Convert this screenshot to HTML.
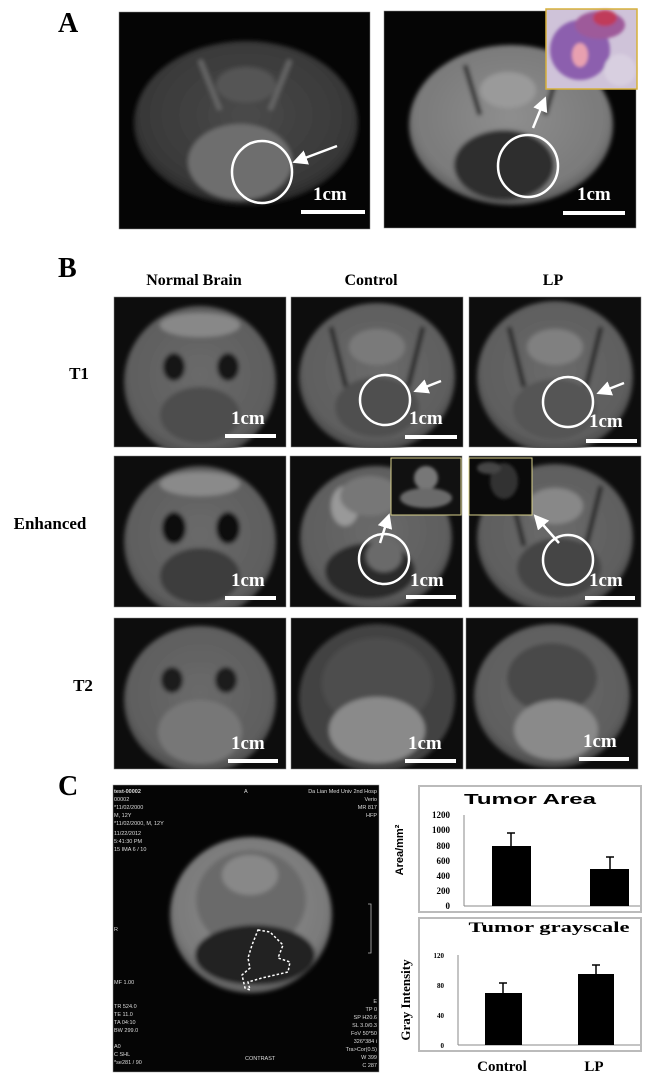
<!DOCTYPE html>
<html><head><meta charset="utf-8"><style>
html,body{margin:0;padding:0;background:#fff;}
svg{display:block;}
.lbl{font-family:"Liberation Serif",serif;font-weight:bold;fill:#000;}
.cm{font-family:"Liberation Serif",serif;font-weight:bold;fill:#fff;font-size:19px;}
.tiny{font-family:"Liberation Sans",sans-serif;fill:#ddd;font-size:5.5px;}
.ax{font-family:"Liberation Serif",serif;font-weight:bold;fill:#000;font-size:9px;}
</style></head><body>
<svg width="650" height="1087" viewBox="0 0 650 1087" xmlns="http://www.w3.org/2000/svg">
<defs>
<filter id="bl" x="-10%" y="-10%" width="120%" height="120%"><feGaussianBlur stdDeviation="2.2"/></filter>
<filter id="bl2"><feGaussianBlur stdDeviation="1.5"/></filter>
<clipPath id="cpB"><rect x="0" y="0" width="172" height="151"/></clipPath>
<clipPath id="cpA1"><rect x="119" y="12" width="251" height="217"/></clipPath>
<clipPath id="cpA2"><rect x="384" y="11" width="252" height="217"/></clipPath>
<clipPath id="cpC"><rect x="113" y="785" width="266" height="287"/></clipPath>
<radialGradient id="gA" cx="50%" cy="45%" r="55%"><stop offset="0" stop-color="#4a4a4a"/><stop offset="0.85" stop-color="#383838"/><stop offset="1" stop-color="#262626"/></radialGradient>
<radialGradient id="gB" cx="50%" cy="45%" r="55%"><stop offset="0" stop-color="#8e8e8e"/><stop offset="0.85" stop-color="#7a7a7a"/><stop offset="1" stop-color="#5a5a5a"/></radialGradient>
<radialGradient id="gH" cx="50%" cy="45%" r="55%"><stop offset="0" stop-color="#6a6a6a"/><stop offset="0.85" stop-color="#5e5e5e"/><stop offset="1" stop-color="#484848"/></radialGradient>
<marker id="ar" markerWidth="6" markerHeight="6" refX="4" refY="3" orient="auto"><path d="M0,0 L6,3 L0,6 z" fill="#fff"/></marker>
</defs>

<!-- Panel A -->
<text class="lbl" x="58" y="32" font-size="28">A</text>
<rect x="119" y="12" width="251" height="217" fill="#050505" stroke="#888" stroke-width="0.5"/>
<g clip-path="url(#cpA1)"><g filter="url(#bl)">
<ellipse cx="246" cy="123" rx="112" ry="82" fill="url(#gA)"/>
<ellipse cx="240" cy="162" rx="52" ry="38" fill="#6e6e6e"/>
<path d="M200,60 L220,110 M290,60 L270,110" stroke="#666" stroke-width="5"/>
<ellipse cx="246" cy="85" rx="30" ry="18" fill="#555"/>
</g></g>
<ellipse cx="262" cy="172" rx="30" ry="31" fill="none" stroke="#fff" stroke-width="2.5"/>
<line x1="337" y1="146" x2="297" y2="161" stroke="#fff" stroke-width="2.5" marker-end="url(#ar)"/>
<rect x="301" y="210" width="64" height="4" fill="#fff"/>
<text class="cm" x="313" y="200">1cm</text>

<rect x="384" y="11" width="252" height="217" fill="#050505" stroke="#888" stroke-width="0.5"/>
<g clip-path="url(#cpA2)"><g filter="url(#bl)">
<ellipse cx="511" cy="125" rx="102" ry="80" fill="url(#gB)"/>
<ellipse cx="504" cy="165" rx="50" ry="35" fill="#2e2e2e"/>
<path d="M465,65 L480,115 M560,65 L545,115" stroke="#333" stroke-width="5"/>
<ellipse cx="508" cy="90" rx="28" ry="18" fill="#9a9a9a"/>
</g></g>
<ellipse cx="528" cy="166" rx="30" ry="31" fill="none" stroke="#fff" stroke-width="2.5"/>
<line x1="533" y1="128" x2="544" y2="101" stroke="#fff" stroke-width="2.5" marker-end="url(#ar)"/>
<rect x="563" y="211" width="62" height="4" fill="#fff"/>
<text class="cm" x="577" y="200">1cm</text>
<rect x="546" y="9" width="91" height="80" fill="#cfc3d9"/>
<g filter="url(#bl2)">
<ellipse cx="580" cy="50" rx="30" ry="30" fill="#8c5fae"/>
<ellipse cx="600" cy="25" rx="25" ry="14" fill="#9e5a9a"/>
<ellipse cx="580" cy="55" rx="8" ry="12" fill="#e8a0b0"/>
<ellipse cx="605" cy="18" rx="12" ry="8" fill="#c03a5a"/>
<ellipse cx="620" cy="70" rx="16" ry="16" fill="#d8cfe0"/>
</g>
<rect x="546" y="9" width="91" height="80" fill="none" stroke="#d6b03a" stroke-width="1.5"/>

<!-- Panel B -->
<text class="lbl" x="58" y="277" font-size="28">B</text>
<text class="lbl" x="194" y="285" font-size="16" text-anchor="middle">Normal Brain</text>
<text class="lbl" x="371" y="285" font-size="16" text-anchor="middle">Control</text>
<text class="lbl" x="553" y="285" font-size="16" text-anchor="middle">LP</text>
<text class="lbl" x="79" y="379" font-size="17" text-anchor="middle">T1</text>
<text class="lbl" x="50" y="529" font-size="17" text-anchor="middle">Enhanced</text>
<text class="lbl" x="83" y="691" font-size="17" text-anchor="middle">T2</text>

<!-- row 1 -->
<g transform="translate(114,297)">
<rect width="172" height="150" fill="#0d0d0d" stroke="#888" stroke-width="0.5"/>
<g clip-path="url(#cpB)"><g filter="url(#bl)"><ellipse cx="86" cy="85" rx="76" ry="76" fill="url(#gH)"/>
<ellipse cx="60" cy="70" rx="11" ry="14" fill="#151515"/><ellipse cx="114" cy="70" rx="11" ry="14" fill="#151515"/>
<ellipse cx="86" cy="118" rx="40" ry="28" fill="#4e4e4e"/><ellipse cx="86" cy="28" rx="40" ry="12" fill="#888"/></g></g>
<rect x="111" y="137" width="51" height="4" fill="#fff"/><text class="cm" x="117" y="127">1cm</text>
</g>
<g transform="translate(291,297)">
<rect width="172" height="150" fill="#0d0d0d" stroke="#888" stroke-width="0.5"/>
<g clip-path="url(#cpB)"><g filter="url(#bl)"><ellipse cx="86" cy="80" rx="78" ry="74" fill="url(#gH)"/>
<path d="M40,30 L55,90 M132,30 L117,90" stroke="#2a2a2a" stroke-width="5"/>
<ellipse cx="86" cy="50" rx="28" ry="18" fill="#7a7a7a"/><ellipse cx="86" cy="110" rx="42" ry="30" fill="#505050"/></g></g>
<ellipse cx="94" cy="103" rx="25" ry="25" fill="none" stroke="#fff" stroke-width="2.5"/>
<line x1="150" y1="84" x2="127" y2="93" stroke="#fff" stroke-width="2.5" marker-end="url(#ar)"/>
<rect x="114" y="138" width="52" height="4" fill="#fff"/><text class="cm" x="118" y="127">1cm</text>
</g>
<g transform="translate(469,297)">
<rect width="172" height="150" fill="#0d0d0d" stroke="#888" stroke-width="0.5"/>
<g clip-path="url(#cpB)"><g filter="url(#bl)"><ellipse cx="86" cy="80" rx="78" ry="76" fill="url(#gH)"/>
<path d="M40,30 L55,90 M132,30 L117,90" stroke="#2a2a2a" stroke-width="5"/>
<ellipse cx="86" cy="50" rx="28" ry="18" fill="#808080"/><ellipse cx="86" cy="112" rx="42" ry="30" fill="#555"/></g></g>
<ellipse cx="99" cy="105" rx="25" ry="25" fill="none" stroke="#fff" stroke-width="2.5"/>
<line x1="155" y1="86" x2="132" y2="95" stroke="#fff" stroke-width="2.5" marker-end="url(#ar)"/>
<rect x="117" y="142" width="51" height="4" fill="#fff"/><text class="cm" x="120" y="130">1cm</text>
</g>

<!-- row 2 -->
<g transform="translate(114,456)">
<rect width="172" height="151" fill="#0d0d0d" stroke="#888" stroke-width="0.5"/>
<g clip-path="url(#cpB)"><g filter="url(#bl)"><ellipse cx="86" cy="86" rx="76" ry="76" fill="url(#gH)"/>
<ellipse cx="60" cy="72" rx="12" ry="16" fill="#0a0a0a"/><ellipse cx="114" cy="72" rx="12" ry="16" fill="#0a0a0a"/>
<ellipse cx="86" cy="120" rx="40" ry="28" fill="#3e3e3e"/><ellipse cx="86" cy="28" rx="40" ry="12" fill="#8a8a8a"/></g></g>
<rect x="111" y="140" width="51" height="4" fill="#fff"/><text class="cm" x="117" y="130">1cm</text>
</g>
<g transform="translate(290,456)">
<rect width="172" height="151" fill="#0d0d0d" stroke="#888" stroke-width="0.5"/>
<g clip-path="url(#cpB)"><g filter="url(#bl)"><ellipse cx="86" cy="82" rx="76" ry="72" fill="url(#gH)"/>
<ellipse cx="55" cy="50" rx="14" ry="20" fill="#999"/><ellipse cx="80" cy="40" rx="30" ry="20" fill="#777"/>
<ellipse cx="80" cy="115" rx="45" ry="28" fill="#2a2a2a"/><ellipse cx="94" cy="100" rx="18" ry="16" fill="#6a6a6a"/></g></g>
<ellipse cx="94" cy="103" rx="25" ry="25" fill="none" stroke="#fff" stroke-width="2.5"/>
<line x1="90" y1="87" x2="98" y2="62" stroke="#fff" stroke-width="2.5" marker-end="url(#ar)"/>
<rect x="101" y="2" width="70" height="57" fill="#111"/>
<g filter="url(#bl2)"><ellipse cx="136" cy="22" rx="12" ry="12" fill="#777"/><ellipse cx="136" cy="42" rx="26" ry="10" fill="#6a6a6a"/></g>
<rect x="101" y="2" width="70" height="57" fill="none" stroke="#d8d08a" stroke-width="1"/>
<rect x="116" y="139" width="50" height="4" fill="#fff"/><text class="cm" x="120" y="130">1cm</text>
</g>
<g transform="translate(469,456)">
<rect width="172" height="151" fill="#0d0d0d" stroke="#888" stroke-width="0.5"/>
<g clip-path="url(#cpB)"><g filter="url(#bl)"><ellipse cx="86" cy="82" rx="78" ry="74" fill="url(#gH)"/>
<path d="M40,30 L55,90 M132,30 L117,90" stroke="#2a2a2a" stroke-width="5"/>
<ellipse cx="86" cy="50" rx="28" ry="18" fill="#888"/><ellipse cx="90" cy="112" rx="42" ry="30" fill="#444"/></g></g>
<ellipse cx="99" cy="104" rx="25" ry="25" fill="none" stroke="#fff" stroke-width="2.5"/>
<line x1="90" y1="87" x2="68" y2="62" stroke="#fff" stroke-width="2.5" marker-end="url(#ar)"/>
<rect x="0" y="2" width="63" height="57" fill="#0a0a0a"/>
<g filter="url(#bl2)"><ellipse cx="35" cy="25" rx="14" ry="18" fill="#333"/><ellipse cx="20" cy="12" rx="12" ry="6" fill="#444"/></g>
<rect x="0" y="2" width="63" height="57" fill="none" stroke="#d8d08a" stroke-width="1"/>
<rect x="116" y="140" width="50" height="4" fill="#fff"/><text class="cm" x="120" y="130">1cm</text>
</g>

<!-- row 3 -->
<g transform="translate(114,618)">
<rect width="172" height="151" fill="#0d0d0d" stroke="#888" stroke-width="0.5"/>
<g clip-path="url(#cpB)"><g filter="url(#bl)"><ellipse cx="86" cy="82" rx="76" ry="74" fill="url(#gH)"/>
<ellipse cx="58" cy="62" rx="11" ry="13" fill="#1a1a1a"/><ellipse cx="112" cy="62" rx="11" ry="13" fill="#1a1a1a"/>
<ellipse cx="86" cy="114" rx="42" ry="32" fill="#777"/></g></g>
<rect x="114" y="141" width="50" height="4" fill="#fff"/><text class="cm" x="117" y="131">1cm</text>
</g>
<g transform="translate(291,618)">
<rect width="172" height="151" fill="#0d0d0d" stroke="#888" stroke-width="0.5"/>
<g clip-path="url(#cpB)"><g filter="url(#bl)"><ellipse cx="86" cy="80" rx="78" ry="74" fill="#424242"/>
<ellipse cx="86" cy="65" rx="55" ry="45" fill="#4e4e4e"/>
<ellipse cx="86" cy="112" rx="48" ry="33" fill="#8a8a8a"/></g></g>
<rect x="114" y="141" width="51" height="4" fill="#fff"/><text class="cm" x="117" y="131">1cm</text>
</g>
<g transform="translate(466,618)">
<rect width="172" height="151" fill="#0d0d0d" stroke="#888" stroke-width="0.5"/>
<g clip-path="url(#cpB)"><g filter="url(#bl)"><ellipse cx="86" cy="78" rx="78" ry="72" fill="url(#gH)"/>
<ellipse cx="86" cy="60" rx="45" ry="35" fill="#4a4a4a"/>
<ellipse cx="90" cy="112" rx="42" ry="30" fill="#8a8a8a"/></g></g>
<rect x="113" y="139" width="50" height="4" fill="#fff"/><text class="cm" x="117" y="129">1cm</text>
</g>

<!-- Panel C -->
<text class="lbl" x="58" y="795" font-size="28">C</text>
<rect x="113" y="785" width="266" height="287" fill="#050505" stroke="#999" stroke-width="0.5"/>
<g clip-path="url(#cpC)"><g filter="url(#bl)">
<ellipse cx="251" cy="915" rx="81" ry="78" fill="url(#gB)"/>
<ellipse cx="251" cy="900" rx="55" ry="50" fill="#6a6a6a"/>
<ellipse cx="250" cy="875" rx="28" ry="20" fill="#888"/>
<ellipse cx="255" cy="955" rx="60" ry="30" fill="#222"/>
</g></g>
<path d="M258,930 L270,932 L283,945 L278,958 L290,962 L288,972 L262,978 L248,982 L250,990 L245,988 L242,975 L250,968 L248,958 L252,945 Z" fill="none" stroke="#fff" stroke-width="1.5" stroke-dasharray="2.5,2"/>
<g class="tiny">
<text x="114" y="793" font-weight="bold">test-00002</text>
<text x="114" y="801">00002</text><text x="114" y="809">*11/02/2000</text><text x="114" y="817">M, 12Y</text><text x="114" y="825">*11/02/2000, M, 12Y</text>
<text x="114" y="835">11/22/2012</text><text x="114" y="843">5:41:30 PM</text><text x="114" y="851">15 IMA 6 / 10</text>
<text x="114" y="931">R</text><text x="114" y="984">MF 1.00</text>
<text x="114" y="1008">TR 524.0</text><text x="114" y="1016">TE 11.0</text><text x="114" y="1024">TA 04:10</text><text x="114" y="1032">BW 299.0</text>
<text x="114" y="1048">A0</text><text x="114" y="1056">C SHL</text><text x="114" y="1064">*se281 / 90</text>
<text x="245" y="1060">CONTRAST</text><text x="244" y="793">A</text>
<text x="377" y="793" text-anchor="end">Da Lian Med Univ 2nd Hosp</text>
<text x="377" y="801" text-anchor="end">Verio</text><text x="377" y="809" text-anchor="end">MR 817</text><text x="377" y="817" text-anchor="end">HFP</text>
<text x="377" y="1003" text-anchor="end">E</text><text x="377" y="1011" text-anchor="end">TP 0</text><text x="377" y="1019" text-anchor="end">SP H20.6</text>
<text x="377" y="1027" text-anchor="end">SL 3.0/0.3</text><text x="377" y="1035" text-anchor="end">FoV 50*50</text><text x="377" y="1043" text-anchor="end">326*384 i</text>
<text x="377" y="1051" text-anchor="end">Tra&gt;Cor(0.5)</text><text x="377" y="1059" text-anchor="end">W 399</text><text x="377" y="1067" text-anchor="end">C 287</text>
</g>
<path d="M368,904 L371,904 L371,953 L368,953" fill="none" stroke="#bbb" stroke-width="0.8"/>

<!-- Chart 1 -->
<rect x="419" y="786" width="222" height="126" fill="#fff" stroke="#bbb" stroke-width="2"/>
<text x="530" y="804" font-family="Liberation Sans,sans-serif" font-weight="bold" font-size="15" text-anchor="middle" textLength="132" lengthAdjust="spacingAndGlyphs">Tumor Area</text>
<line x1="464" y1="815" x2="464" y2="906" stroke="#888" stroke-width="1"/>
<line x1="464" y1="906" x2="640" y2="906" stroke="#888" stroke-width="1"/>
<g class="ax" text-anchor="end">
<text x="450" y="818">1200</text><text x="450" y="833">1000</text><text x="450" y="849">800</text><text x="450" y="864">600</text><text x="450" y="879">400</text><text x="450" y="894">200</text><text x="450" y="909">0</text>
</g>
<text transform="translate(403,850) rotate(-90)" font-family="Liberation Sans,sans-serif" font-weight="bold" font-size="11" text-anchor="middle">Area/mm²</text>
<rect x="492" y="846" width="39" height="60" fill="#000"/>
<line x1="511" y1="833" x2="511" y2="846" stroke="#000" stroke-width="1.5"/><line x1="507" y1="833" x2="515" y2="833" stroke="#000" stroke-width="1.5"/>
<rect x="590" y="869" width="39" height="37" fill="#000"/>
<line x1="610" y1="857" x2="610" y2="869" stroke="#000" stroke-width="1.5"/><line x1="606" y1="857" x2="614" y2="857" stroke="#000" stroke-width="1.5"/>

<!-- Chart 2 -->
<rect x="419" y="918" width="222" height="133" fill="#fff" stroke="#bbb" stroke-width="2"/>
<text x="549" y="932" font-family="Liberation Serif,serif" font-weight="bold" font-size="15" text-anchor="middle" textLength="161" lengthAdjust="spacingAndGlyphs">Tumor  grayscale</text>
<line x1="458" y1="955" x2="458" y2="1045" stroke="#888" stroke-width="1"/>
<line x1="458" y1="1045" x2="640" y2="1045" stroke="#888" stroke-width="1"/>
<g class="ax" text-anchor="end">
<text x="444" y="958" font-size="7">120</text><text x="444" y="988" font-size="7">80</text><text x="444" y="1018" font-size="7">40</text><text x="444" y="1048" font-size="7">0</text>
</g>
<text transform="translate(410,1000) rotate(-90)" font-family="Liberation Serif,serif" font-weight="bold" font-size="13" text-anchor="middle">Gray  Intensity</text>
<rect x="485" y="993" width="37" height="52" fill="#000"/>
<line x1="503" y1="983" x2="503" y2="993" stroke="#000" stroke-width="1.5"/><line x1="499" y1="983" x2="507" y2="983" stroke="#000" stroke-width="1.5"/>
<rect x="578" y="974" width="36" height="71" fill="#000"/>
<line x1="596" y1="965" x2="596" y2="974" stroke="#000" stroke-width="1.5"/><line x1="592" y1="965" x2="600" y2="965" stroke="#000" stroke-width="1.5"/>
<text class="lbl" x="502" y="1071" font-size="15" text-anchor="middle">Control</text>
<text class="lbl" x="594" y="1071" font-size="15" text-anchor="middle">LP</text>
</svg>
</body></html>
